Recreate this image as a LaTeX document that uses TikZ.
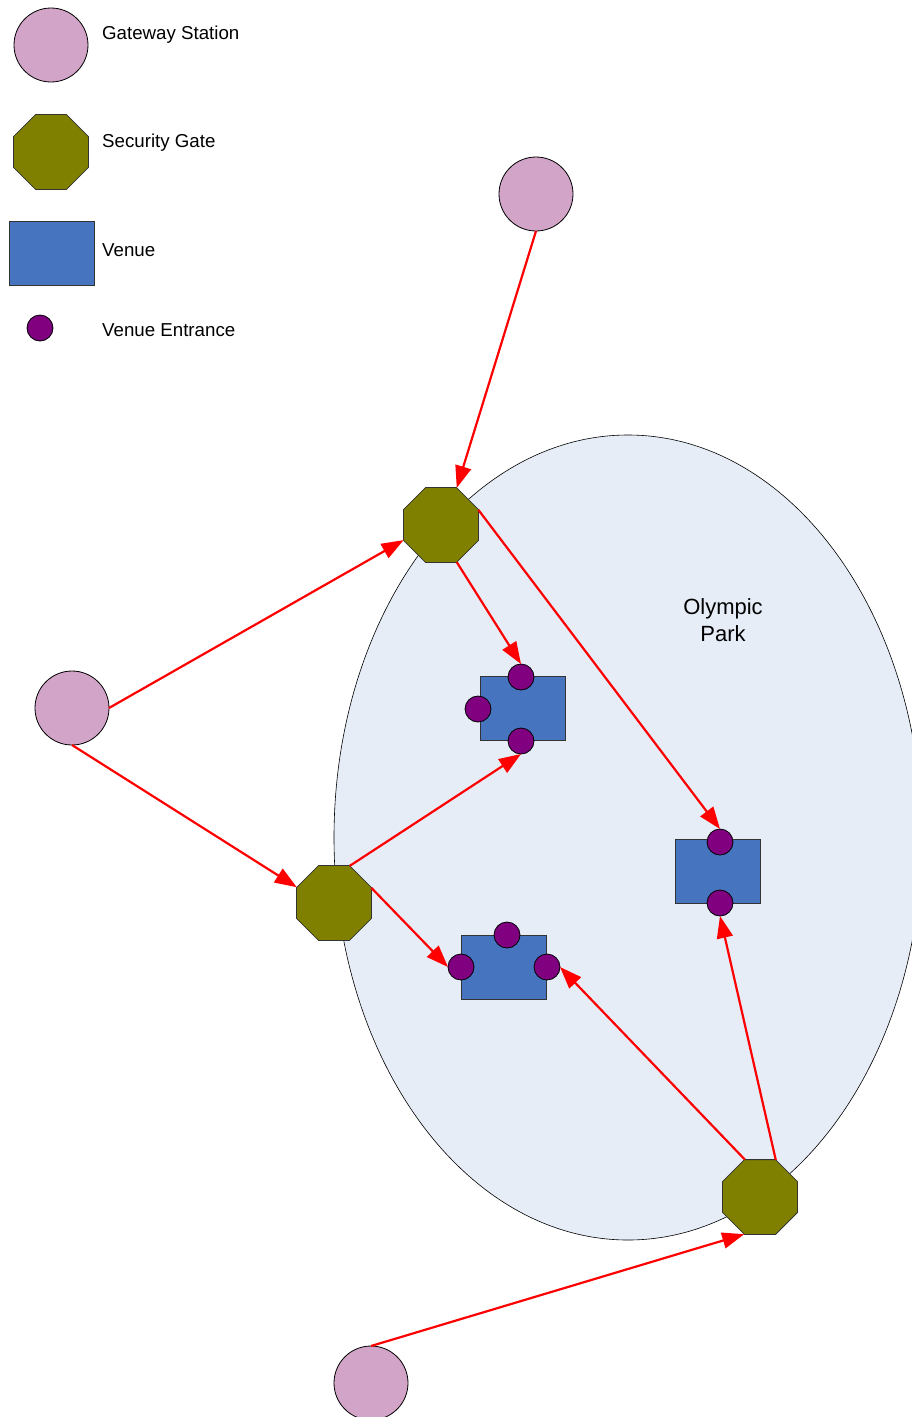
\documentclass[tikz,border=0pt]{standalone}
\usepackage{fontspec}
\setmainfont{Liberation Sans}
\usetikzlibrary{shapes.geometric,arrows.meta}
\definecolor{stationfill}{RGB}{209,164,200}
\definecolor{gatefill}{RGB}{128,128,0}
\definecolor{venuefill}{RGB}{70,116,190}
\definecolor{entrancefill}{RGB}{128,0,128}
\definecolor{parkfill}{RGB}{230,237,247}
\tikzset{
  station/.style={circle, draw=black, fill=stationfill, line width=0.8pt,
    minimum size=74pt, inner sep=0pt, outer sep=0pt},
  gate/.style={regular polygon, regular polygon sides=8, draw=black!80,
    fill=gatefill, line width=0.8pt, minimum size=81pt, inner sep=0pt, outer sep=0pt},
  venue/.style={rectangle, draw=black!80, fill=venuefill, line width=0.8pt,
    minimum width=85pt, minimum height=64pt, inner sep=0pt, outer sep=0pt},
  entrance/.style={circle, draw=black, fill=entrancefill, line width=0.8pt,
    minimum size=26pt, inner sep=0pt, outer sep=0pt},
  legendtext/.style={anchor=west, inner sep=0pt, font=\fontsize{18.7}{22}\selectfont},
  flow/.style={draw=red, line width=2.2pt,
    -{Triangle[length=22pt,width=16pt]}, shorten >=0pt},
}
\begin{document}
\begin{tikzpicture}[x=1pt, y=-1pt]
\useasboundingbox (0,0) rectangle (911,1417);

% park area
\draw[fill=parkfill, draw=black, line width=0.6pt] (628,837.5) ellipse (294 and 402.5);
\node[align=center, font=\fontsize{22}{27}\selectfont] (parklabel) at (723,620) {Olympic\\Park};

% legend
\node[station] (lstation) at (51,45) {};
\node[legendtext] (lstationtxt) at (102,35) {Gateway Station};
\node[gate] (lgate) at (51,152) {};
\node[legendtext] (lgatetxt) at (102,143) {Security Gate};
\node[venue] (lvenue) at (51.5,253) {};
\node[legendtext] (lvenuetxt) at (102,250) {Venue};
\node[entrance] (lentr) at (40,328) {};
\node[legendtext] (lentrtxt) at (102,330) {Venue Entrance};

% gateway stations
\node[station] (stop) at (536,194) {};
\node[station] (sleft) at (72,708) {};
\node[station] (sbot) at (371,1383) {};

% security gates
\node[gate] (g1) at (441,525) {};
\node[gate] (g2) at (334,903) {};
\node[gate] (g3) at (760,1197) {};

% venues and their entrances
\node[venue] (v1) at (522.5,708) {};
\node[entrance] (v1t) at (521,677) {};
\node[entrance] (v1l) at (478,709) {};
\node[entrance] (v1b) at (521,741) {};

\node[venue] (v2) at (717.5,871.5) {};
\node[entrance] (v2t) at (720,842) {};
\node[entrance] (v2b) at (720,903) {};

\node[venue] (v3) at (504,967.5) {};
\node[entrance] (v3t) at (507,935) {};
\node[entrance] (v3l) at (461,967) {};
\node[entrance] (v3r) at (547,967) {};

% walking routes
\draw[flow] (stop.south) -- (g1.67.5);
\draw[flow] (sleft.east) -- (g1.202.5);
\draw[flow] (sleft.south) -- (g2.157.5);
\draw[flow] (g1.-67.5) -- (v1t.north);
\draw[flow] (g1.22.5) -- (v2t.north);
\draw[flow] (g2.67.5) -- (v1b.south);
\draw[flow] (g2.22.5) -- (v3l.west);
\draw[flow] (g3.112.5) -- (v3r.east);
\draw[flow] (g3.67.5) -- (v2b.south);
\draw[flow] (sbot.north) -- (g3.247.5);
\end{tikzpicture}
\end{document}
